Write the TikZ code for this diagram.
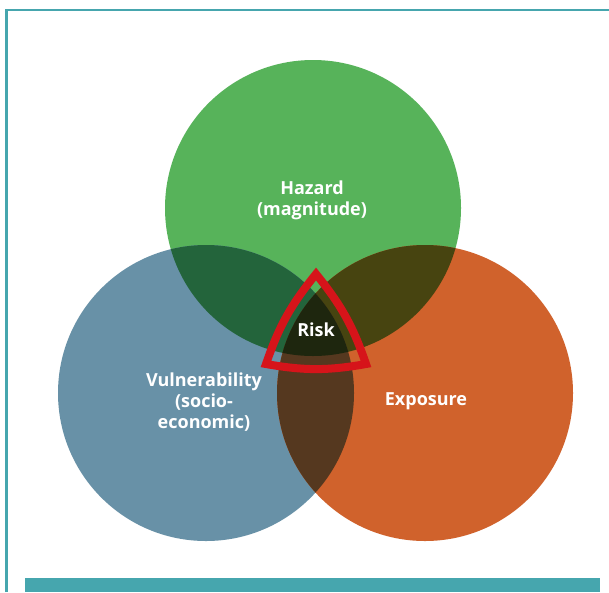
\documentclass[tikz,border=0pt]{standalone}
\usepackage{fontspec}
\setmainfont{Open Sans}
\definecolor{teal1}{RGB}{70,166,174}
\definecolor{hgreen}{RGB}{87,179,90}
\definecolor{vblue}{RGB}{104,145,167}
\definecolor{eorange}{RGB}{208,98,44}
\definecolor{gb}{RGB}{35,100,59}
\definecolor{go}{RGB}{71,68,16}
\definecolor{bo}{RGB}{85,56,31}
\definecolor{gbo}{RGB}{30,38,14}
\definecolor{riskred}{RGB}{214,20,26}
\begin{document}
\begin{tikzpicture}[x=1pt,y=-1pt,
  lbl/.style={text=white,font=\bfseries\fontsize{18}{21}\selectfont,align=center},
  disc/.style={circle,minimum size=296pt,inner sep=0pt,draw=none}]
\useasboundingbox (0,0) rectangle (609,592);
\fill[white] (0,0) rectangle (609,592);
% frame
\draw[teal1,line width=2.6pt] (6.5,592) -- (6.5,10) -- (609,10);
\fill[teal1] (25,578) rectangle (600,592);
% circles
\node[disc,fill=hgreen] (haz) at (313,208) {};
\node[disc,fill=vblue] (vul) at (206,393) {};
\node[disc,fill=eorange] (exp) at (425,393) {};
% pairwise overlaps
\begin{scope}
  \clip (313,208) circle (148);
  \fill[gb] (206,393) circle (148);
\end{scope}
\begin{scope}
  \clip (313,208) circle (148);
  \fill[go] (425,393) circle (148);
\end{scope}
\begin{scope}
  \clip (206,393) circle (148);
  \fill[bo] (425,393) circle (148);
\end{scope}
\begin{scope}
  \clip (313,208) circle (148);
  \clip (206,393) circle (148);
  \fill[gbo] (425,393) circle (148);
\end{scope}
% risk outline
\coordinate (rt) at (316,274);
\coordinate (rr) at (366,364);
\coordinate (rl) at (266,364);
\draw[riskred,line width=8pt,line join=miter,miter limit=10]
  (rt) to[bend left=10] (rr) to[bend left=10] (rl) to[bend left=10] (rt) -- cycle;
% labels
\node[lbl] (hazl) at (312,200) {Hazard\\(magnitude)};
\node[lbl] (riskl) at (316,330) {Risk};
\node[lbl] (vull) at (204,402) {Vulnerability\\(socio-\\economic)};
\node[lbl] (expl) at (426,401) {Exposure};
\end{tikzpicture}
\end{document}
